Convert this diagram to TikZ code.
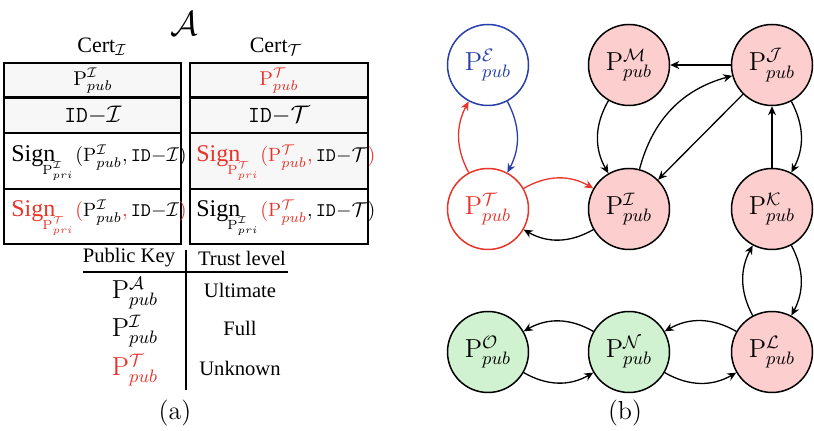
\documentclass[tikz,border=0pt]{standalone}
\usepackage{fontspec}
\newfontfamily\gent{Liberation Serif}
\usetikzlibrary{arrows.meta}
\definecolor{myred}{RGB}{232,52,42}
\definecolor{myblue}{RGB}{40,62,170}
\definecolor{pinkfill}{RGB}{253,206,206}
\definecolor{greenfill}{RGB}{208,242,208}
\definecolor{rowgrey}{RGB}{247,247,247}
\newcommand\Pkey[2]{\mathrm{P}^{#1}_{#2}}
\newcommand\IDof[1]{\texttt{ID}{-}#1}
\newcommand\SignBy[1]{\mbox{\gent\fontsize{12}{14}\selectfont Sign}\kern-6.5pt\raisebox{-6.5pt}{\fontsize{9.5}{11}\selectfont$\scriptstyle\Pkey{#1}{pri}$}\kern1pt}
\tikzset{
  keynode/.style={circle,draw,line width=0.75pt,minimum size=40.5pt,inner sep=0pt,font=\fontsize{13}{15}\selectfont},
  redkey/.style={keynode,fill=pinkfill},
  greenkey/.style={keynode,fill=greenfill},
  link/.style={line width=0.65pt,-{Stealth[length=4.5pt,width=4pt]}},
  cell/.style={draw,line width=1.3pt},
  celltext/.style={font=\fontsize{10}{12}\selectfont,inner sep=0pt},
  signtext/.style={font=\fontsize{9.6}{12}\selectfont,inner sep=0pt,anchor=base west},
  lbl/.style={font=\gent\fontsize{10.3}{12}\selectfont,inner sep=0pt},
}
\begin{document}
\begin{tikzpicture}[x=0.5pt,y=0.5pt]
\useasboundingbox (0,0) rectangle (814,-431);
% ---------- (a) ----------
\node[inner sep=0pt,font=\fontsize{19}{22}\selectfont] (A) at (184,-24) {$\mathcal{A}$};
\node[inner sep=0pt,font=\gent\fontsize{11}{13}\selectfont] (certI) at (102,-47) {Cert$_{\mathcal{I}}$};
\node[inner sep=0pt,font=\gent\fontsize{11}{13}\selectfont] (certT) at (276,-47) {Cert$_{\mathcal{T}}$};
% certificates
\fill[rowgrey] (4,-63) rectangle (181,-133);
\fill[rowgrey] (190,-63) rectangle (368,-189);
\draw[cell] (4,-63) rectangle (181,-244);
\draw[cell] (4,-97.5) -- (181,-97.5) (4,-133) -- (181,-133) (4,-189) -- (181,-189);
\draw[cell] (190,-63) rectangle (368,-244);
\draw[cell] (190,-97.5) -- (368,-97.5) (190,-133) -- (368,-133) (190,-189) -- (368,-189);
\node[celltext] (l1) at (93,-81) {$\Pkey{\mathcal{I}}{pub}$};
\node[celltext,font=\fontsize{11.5}{13}\selectfont] (l2) at (93,-115.5) {$\IDof{\mathcal{I}}$};
\node[signtext] (l3) at (11,-162) {\SignBy{\mathcal{I}}$(\Pkey{\mathcal{I}}{pub},\IDof{\mathcal{I}})$};
\node[signtext] (l4) at (11,-217) {\color{myred}\SignBy{\mathcal{T}}$({\color{black}\Pkey{\mathcal{I}}{pub}},{\color{black}\IDof{\mathcal{I}}})$};
\node[celltext] (r1) at (279,-81) {$\color{myred}\Pkey{\mathcal{T}}{pub}$};
\node[celltext,font=\fontsize{11.5}{13}\selectfont] (r2) at (279,-115.5) {$\IDof{\mathcal{T}}$};
\node[signtext] (r3) at (196,-162) {\color{myred}\SignBy{\mathcal{T}}$(\Pkey{\mathcal{T}}{pub},{\color{black}\IDof{\mathcal{T}}})$};
\node[signtext] (r4) at (196,-217) {\SignBy{\mathcal{I}}${\color{myred}(\Pkey{\mathcal{T}}{pub}},\IDof{\mathcal{T}})$};
% trust table
\node[lbl] (hk) at (129,-258) {Public Key};
\node[lbl] (ht) at (242,-258) {Trust level};
\coordinate (hl1) at (83,-272);
\coordinate (hl2) at (288,-272);
\coordinate (vl1) at (186,-250);
\coordinate (vl2) at (186,-390);
\draw[line width=1pt] (hl1) -- (hl2);
\draw[line width=1pt] (vl1) -- (vl2);
\node[inner sep=0pt,font=\fontsize{13}{15}\selectfont] (ka) at (135,-293) {$\Pkey{\mathcal{A}}{pub}$};
\node[inner sep=0pt,font=\fontsize{13}{15}\selectfont] (ki) at (135,-331) {$\Pkey{\mathcal{I}}{pub}$};
\node[inner sep=0pt,font=\fontsize{13}{15}\selectfont,text=myred] (kt) at (135,-370) {$\Pkey{\mathcal{T}}{pub}$};
\node[lbl] (ta) at (240,-290) {Ultimate};
\node[lbl] (ti) at (240,-328) {Full};
\node[lbl] (tt) at (240,-368) {Unknown};
\node[inner sep=0pt,font=\fontsize{13}{15}\selectfont] (capa) at (175,-413) {(a)};
% ---------- (b) ----------
\node[keynode,draw=myblue,text=myblue,fill=white] (E) at (488,-65) {$\Pkey{\mathcal{E}}{pub}$};
\node[redkey] (M) at (629,-65) {$\Pkey{\mathcal{M}}{pub}$};
\node[redkey] (J) at (772,-65) {$\Pkey{\mathcal{J}}{pub}$};
\node[keynode,draw=myred,text=myred,fill=white] (T) at (488,-209) {$\Pkey{\mathcal{T}}{pub}$};
\node[redkey] (I) at (629,-209) {$\Pkey{\mathcal{I}}{pub}$};
\node[redkey] (K) at (772,-209) {$\Pkey{\mathcal{K}}{pub}$};
\node[greenkey] (O) at (488,-352) {$\Pkey{\mathcal{O}}{pub}$};
\node[greenkey] (N) at (629,-352) {$\Pkey{\mathcal{N}}{pub}$};
\node[redkey] (L) at (772,-352) {$\Pkey{\mathcal{L}}{pub}$};
\node[inner sep=0pt,font=\fontsize{13}{15}\selectfont] (capb) at (625,-413) {(b)};
\draw[link,myblue] (E) to[bend left=28] (T);
\draw[link,myred] (T) to[bend left=28] (E);
\draw[link,myred] (T) to[bend left=30] (I);
\draw[link] (I) to[bend left=30] (T);
\draw[link] (M) to[bend right=30] (I);
\draw[link] (I) to[bend left=30] (J);
\draw[link] (J) -- (I);
\draw[link] (J) -- (M);
\draw[link] (J) to[bend left=28] (K);
\draw[link] (K) -- (J);
\draw[link] (L) to[bend left=28] (K);
\draw[link] (K) to[bend left=28] (L);
\draw[link] (L) to[bend right=30] (N);
\draw[link] (N) to[bend right=30] (L);
\draw[link] (N) to[bend right=30] (O);
\draw[link] (O) to[bend right=30] (N);
\end{tikzpicture}
\end{document}
